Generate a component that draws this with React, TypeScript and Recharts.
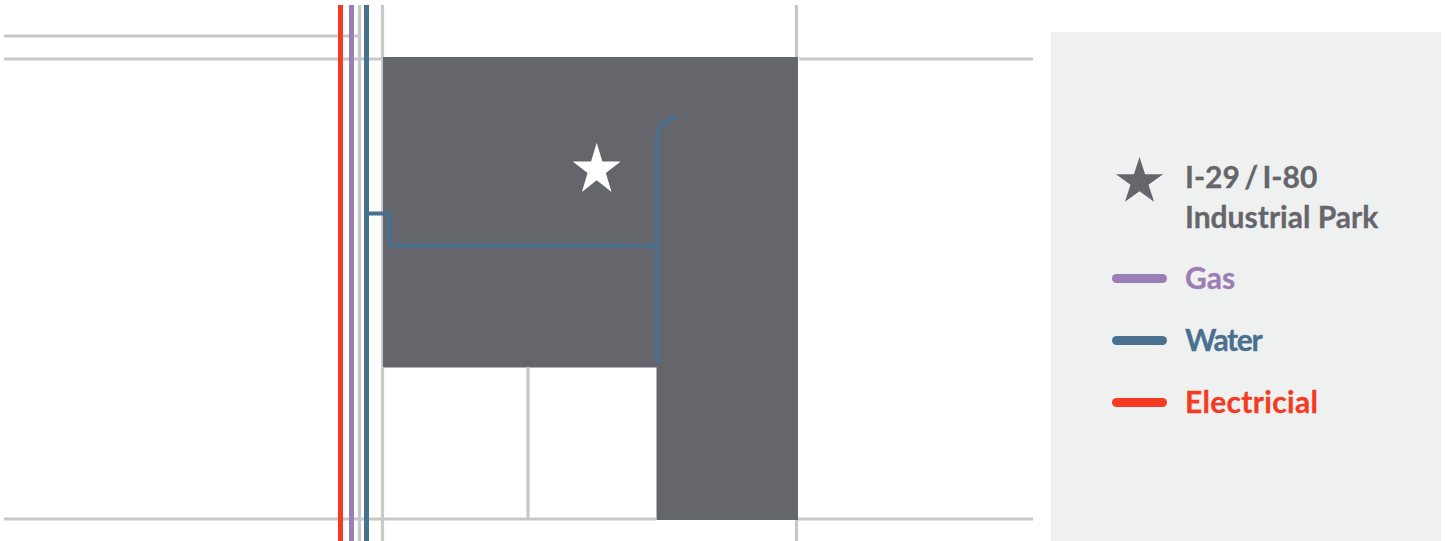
import { ComposedChart, Line, Area, Scatter, XAxis, YAxis, ZAxis, Legend, Symbols } from 'recharts';

const W = 1447;
const H = 541;

const toPoints = (xs: number[], ys: number[]) => xs.map((x, i) => ({ x, y: ys[i] }));

const parcelX = [383, 656.5, 656.5, 798];
const parcelTop = [57, 57, 57, 57];
const parcelBottom = [367.5, 367.5, 520, 520];
const parcel = parcelX.map((x, i) => ({ x, range: [parcelTop[i], parcelBottom[i]] }));

// roads stop at the parcel edge, lines are painted over the area
const roads = [
  toPoints([4, 358], [36, 36]),
  toPoints([4, 383], [59, 59]),
  toPoints([799, 1033], [59, 59]),
  toPoints([4, 656.5], [519, 519]),
  toPoints([798, 1033], [519, 519]),
  toPoints([359.5, 359.5], [5, 541]),
  toPoints([382.5, 382.5], [5, 57]),
  toPoints([382.5, 382.5], [367.5, 541]),
  toPoints([796.5, 796.5], [5, 57]),
  toPoints([796.5, 796.5], [520, 541]),
  toPoints([528, 528], [367, 519]),
];
const parcelEdgeRoad = toPoints([382, 382], [57, 367.5]);

const electricLine = toPoints([340.5, 340.5], [5, 541]);
const gasLine = toPoints([351.5, 351.5], [5, 541]);
const waterMain = toPoints([366.5, 366.5], [5, 541]);
const waterBranchX = [366.5, 389, 389];
const waterBranchY = [213.5, 213.5, 245];
const waterParkX = [389, 657];
const waterParkY = [245.5, 245.5];
const waterSpurX = [657, 657, 657.6, 659.5, 662.5, 666.5, 671, 675.5];
const waterSpurY = [363, 136, 131, 127, 123.5, 121, 119, 117.5];

const starPoint = [{ x: 596.7, y: 169.9 }];

const legendEntries = [
  { name: 'Gas', color: '#9b7eb6' },
  { name: 'Water', color: '#4a7090' },
  { name: 'Electricial', color: '#f43a22' },
];
const parkLabel = ['I-29 / I-80', 'Industrial Park'];

const DARK = '#65666b';
const ROAD = '#c8c8c8';
const PANEL = '#eff1f0';

const labelStyle = {
  position: 'absolute' as const,
  left: 134,
  fontFamily: 'Lato, sans-serif',
  fontWeight: 700,
  fontSize: 30,
  lineHeight: '40px',
  whiteSpace: 'nowrap' as const,
  WebkitTextStroke: '0.3px currentColor',
};

// the white star is a bit taller than a regular one
function TallStar(props: any) {
  return (
    <g transform={`translate(${props.cx},${props.cy}) scale(1,1.08)`}>
      <Symbols cx={0} cy={0} type="star" size={713} sizeType="area" fill="#ffffff" />
    </g>
  );
}

function MapLegend() {
  return (
    <div style={{ position: 'relative', width: 390, height: 509, background: PANEL }}>
      <svg style={{ position: 'absolute', left: 0, top: 0 }} width={390} height={200}>
        <Symbols cx={88.5} cy={149.8} type="star" size={690} sizeType="area" fill={DARK} />
      </svg>
      {parkLabel.map((line, i) => (
        <div key={line} style={{ ...labelStyle, top: 124 + i * 40, color: DARK, wordSpacing: i === 0 ? -3 : 0 }}>
          {line}
        </div>
      ))}
      {legendEntries.map((entry, i) => (
        <div key={entry.name}>
          <div
            style={{
              position: 'absolute',
              left: 61,
              top: 241.5 + i * 62,
              width: 55,
              height: 9,
              borderRadius: 5,
              background: entry.color,
            }}
          />
          <div
            style={{
              ...labelStyle,
              top: 225 + i * 62,
              color: entry.color,
              letterSpacing: entry.name === 'Water' ? -1.3 : entry.name === 'Electricial' ? 0.3 : 0,
            }}
          >
            {entry.name}
          </div>
        </div>
      ))}
    </div>
  );
}

export default function App() {
  return (
    <div style={{ position: 'absolute', left: 0, top: 0, width: W, height: H, background: '#fff' }}>
      <ComposedChart width={W} height={H} margin={{ top: 0, right: 0, bottom: 0, left: 0 }}>
        <XAxis type="number" dataKey="x" domain={[0, W]} hide />
        <YAxis type="number" domain={[0, H]} reversed hide />
        <ZAxis range={[713, 713]} />
        {roads.map((points, i) => (
          <Line
            key={i}
            data={points}
            dataKey="y"
            stroke={ROAD}
            strokeWidth={3.2}
            dot={false}
            activeDot={false}
            isAnimationActive={false}
          />
        ))}
        <Line data={parcelEdgeRoad} dataKey="y" stroke={ROAD} strokeWidth={2} dot={false} activeDot={false} isAnimationActive={false} />
        <Area
          data={parcel}
          dataKey="range"
          fill={DARK}
          fillOpacity={1}
          stroke="none"
          dot={false}
          activeDot={false}
          isAnimationActive={false}
        />
        <Line data={electricLine} dataKey="y" stroke={legendEntries[2].color} strokeWidth={5} dot={false} activeDot={false} isAnimationActive={false} />
        <Line data={gasLine} dataKey="y" stroke={legendEntries[0].color} strokeWidth={5} dot={false} activeDot={false} isAnimationActive={false} />
        <Line data={waterMain} dataKey="y" stroke={legendEntries[1].color} strokeWidth={5} dot={false} activeDot={false} isAnimationActive={false} />
        <Line data={toPoints(waterBranchX, waterBranchY)} dataKey="y" stroke={legendEntries[1].color} strokeWidth={4} dot={false} activeDot={false} isAnimationActive={false} />
        <Line data={toPoints(waterParkX, waterParkY)} dataKey="y" stroke={legendEntries[1].color} strokeWidth={3.5} dot={false} activeDot={false} isAnimationActive={false} />
        <Line data={toPoints(waterSpurX, waterSpurY)} dataKey="y" stroke={legendEntries[1].color} strokeWidth={4} dot={false} activeDot={false} isAnimationActive={false} />
        <Scatter data={starPoint} dataKey="y" shape={TallStar} isAnimationActive={false} />
        <Legend
          layout="horizontal"
          verticalAlign="middle"
          align="center"
          content={() => <MapLegend />}
          wrapperStyle={{ left: 1051, top: 32, width: 390, height: 509 }}
        />
      </ComposedChart>
    </div>
  );
}
